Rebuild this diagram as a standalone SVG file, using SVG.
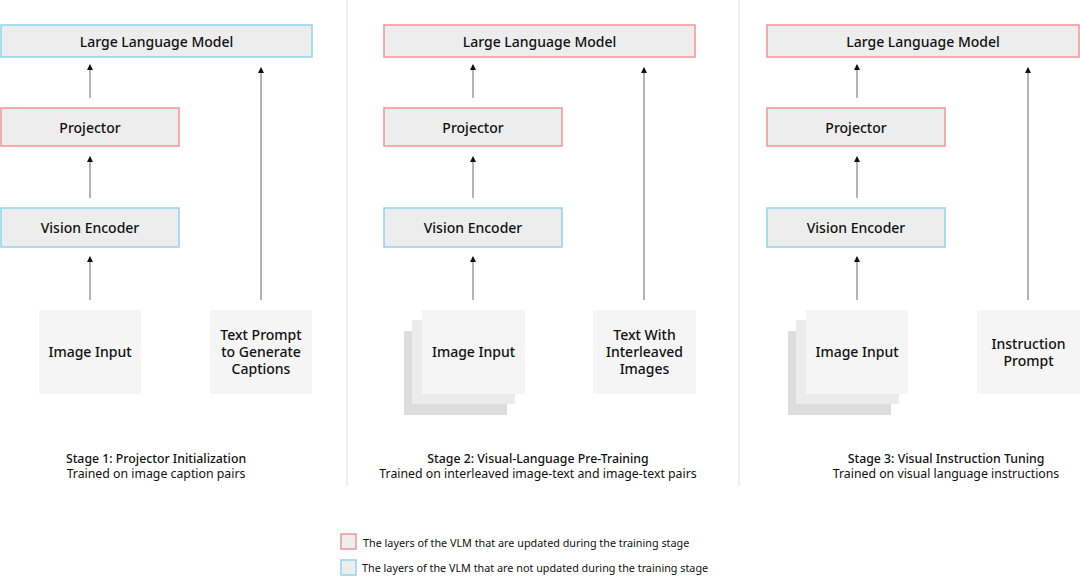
<svg xmlns="http://www.w3.org/2000/svg" width="1080" height="576" viewBox="0 0 1080 576">
<style>
text{font-family:"Noto Sans","Liberation Sans",sans-serif;fill:#111}
.n{font-size:14px;text-anchor:middle;dominant-baseline:central;font-weight:500}
.s{font-size:12.3px;text-anchor:middle}
.l{font-size:10.8px;dominant-baseline:central}
.red{fill:#ededed;stroke:#f19494;stroke-width:1.5}
.blue{fill:#ededed;stroke:#8fd3ef;stroke-width:1.5}
.in{fill:#f5f5f5}
.c{stroke:#8c8c8c;stroke-width:1.3;fill:none;marker-end:url(#ah)}
.div{stroke:#dcdcdc;stroke-width:1}
</style>
<defs>
<marker id="ah" viewBox="0 0 6 6" refX="5" refY="3" markerWidth="6" markerHeight="6" markerUnits="userSpaceOnUse" orient="auto"><path d="M0,0 L6,3 L0,6 z" fill="#111"/></marker>
</defs>
<rect width="1080" height="576" fill="#fff"/>
<line class="div" x1="347" y1="0" x2="347" y2="486"/>
<line class="div" x1="739" y1="0" x2="739" y2="486"/>

<g id="s1-llm"><rect class="blue" x="1" y="25" width="311" height="32"/><text class="n" x="156.5" y="41">Large Language Model</text></g>
<g id="s1-proj"><rect class="red" x="1" y="108" width="178" height="38"/><text class="n" x="90" y="127">Projector</text></g>
<g id="s1-ve"><rect class="blue" x="1" y="208" width="178" height="39"/><text class="n" x="90" y="227">Vision Encoder</text></g>
<g id="s1-img"><rect class="in" x="39" y="310" width="102" height="84"/><text class="n" x="90" y="351">Image Input</text></g>
<g id="s1-txt"><rect class="in" x="210" y="310" width="102" height="84"/><text class="n" x="261" y="334">Text Prompt</text><text class="n" x="261" y="351">to Generate</text><text class="n" x="261" y="368">Captions</text></g>
<g id="s1-label"><text class="s" x="156" y="463" font-weight="500">Stage 1: Projector Initialization</text><text class="s" x="156" y="478">Trained on image caption pairs</text></g>

<g id="s2-llm"><rect class="red" x="384" y="25" width="311" height="32"/><text class="n" x="539.5" y="41">Large Language Model</text></g>
<g id="s2-proj"><rect class="red" x="384" y="108" width="178" height="38"/><text class="n" x="473" y="127">Projector</text></g>
<g id="s2-ve"><rect class="blue" x="384" y="208" width="178" height="39"/><text class="n" x="473" y="227">Vision Encoder</text></g>
<g id="s2-img"><rect fill="#dddddd" x="404" y="331" width="103" height="84"/><rect fill="#ebebeb" x="412" y="320" width="103" height="84"/><rect class="in" x="422" y="310" width="103" height="84"/><text class="n" x="473.5" y="351">Image Input</text></g>
<g id="s2-txt"><rect class="in" x="593" y="310" width="103" height="84"/><text class="n" x="644.5" y="334">Text With</text><text class="n" x="644.5" y="351">Interleaved</text><text class="n" x="644.5" y="368">Images</text></g>
<g id="s2-label"><text class="s" x="538" y="463" font-weight="500">Stage 2: Visual-Language Pre-Training</text><text class="s" x="538" y="478">Trained on interleaved image-text and image-text pairs</text></g>

<g id="s3-llm"><rect class="red" x="767" y="25" width="312" height="32"/><text class="n" x="923" y="41">Large Language Model</text></g>
<g id="s3-proj"><rect class="red" x="767" y="108" width="178" height="38"/><text class="n" x="856" y="127">Projector</text></g>
<g id="s3-ve"><rect class="blue" x="767" y="208" width="178" height="39"/><text class="n" x="856" y="227">Vision Encoder</text></g>
<g id="s3-img"><rect fill="#dddddd" x="788" y="331" width="103" height="84"/><rect fill="#ebebeb" x="796" y="320" width="103" height="84"/><rect class="in" x="806" y="310" width="102" height="84"/><text class="n" x="857" y="351">Image Input</text></g>
<g id="s3-txt"><rect class="in" x="977" y="310" width="103" height="84"/><text class="n" x="1028.5" y="343">Instruction</text><text class="n" x="1028.5" y="360">Prompt</text></g>
<g id="s3-label"><text class="s" x="946" y="463" font-weight="500">Stage 3: Visual Instruction Tuning</text><text class="s" x="946" y="478">Trained on visual language instructions</text></g>

<g id="connectors">
<line class="c" x1="90" y1="98" x2="90" y2="65"/>
<line class="c" x1="90" y1="198" x2="90" y2="157"/>
<line class="c" x1="90" y1="300" x2="90" y2="257"/>
<line class="c" x1="261" y1="300" x2="261" y2="68"/>
<line class="c" x1="473" y1="98" x2="473" y2="65"/>
<line class="c" x1="473" y1="198" x2="473" y2="157"/>
<line class="c" x1="473" y1="300" x2="473" y2="257"/>
<line class="c" x1="644" y1="300" x2="644" y2="68"/>
<line class="c" x1="857" y1="98" x2="857" y2="65"/>
<line class="c" x1="857" y1="198" x2="857" y2="157"/>
<line class="c" x1="857" y1="300" x2="857" y2="257"/>
<line class="c" x1="1028" y1="300" x2="1028" y2="68"/>
</g>

<g id="legend">
<rect class="red" x="341" y="534" width="15" height="15"/><text class="l" x="363" y="542">The layers of the VLM that are updated during the training stage</text>
<rect class="blue" x="341" y="560" width="15" height="15"/><text class="l" x="362" y="567">The layers of the VLM that are not updated during the training stage</text>
</g>
</svg>
